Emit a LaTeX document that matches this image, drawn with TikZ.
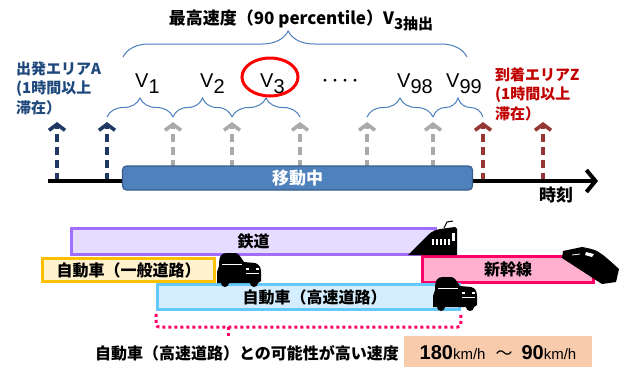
\documentclass[tikz,border=0pt]{standalone}
\usepackage{fontspec}
\setmainfont{Liberation Sans}
\newfontfamily\jp{Noto Sans CJK JP}
\usetikzlibrary{arrows.meta,decorations.pathreplacing}

\definecolor{navyarr}{RGB}{31,56,100}
\definecolor{navytxt}{RGB}{31,73,125}
\definecolor{grayarr}{RGB}{170,170,170}
\definecolor{redarr}{RGB}{150,55,53}
\definecolor{redtxt}{RGB}{192,0,0}
\definecolor{bracecol}{RGB}{74,126,187}
\definecolor{movefill}{RGB}{79,129,189}
\definecolor{moveline}{RGB}{56,93,138}
\definecolor{railline}{RGB}{160,110,250}
\definecolor{railfill}{RGB}{230,220,255}
\definecolor{roadline}{RGB}{255,192,0}
\definecolor{roadfill}{RGB}{255,242,204}
\definecolor{hwline}{RGB}{100,200,255}
\definecolor{hwfill}{RGB}{212,238,255}
\definecolor{shinline}{RGB}{255,0,102}
\definecolor{shinfill}{RGB}{255,176,206}
\definecolor{speedfill}{RGB}{248,203,173}

\begin{document}
\begin{tikzpicture}[x=1pt, y=-1pt,
  jpt/.style={font=\jp\bfseries\fontsize{#1}{19.5}\selectfont},
  darr/.style={line width=3.6pt, dash pattern=on 8pt off 5pt,
    -{Straight Barb[length=6pt,width=16pt]}},
  brc/.style={draw=bracecol, line width=1pt, decorate,
    decoration={brace, amplitude=#1}},
  bar/.style={line width=2.6pt, inner sep=0pt, jpt=16},
  vlab/.style={font=\fontsize{20}{20}\selectfont, inner sep=0pt, anchor=base west},
  dotpink/.style={shinline, line width=3pt, dash pattern=on 3pt off 3pt},
  % silhouettes
  car/.pic={
    \fill (2,14) .. controls (2,4) and (4,1) .. (10,1) -- (18,1)
      .. controls (22,1) and (24,6) .. (27,10) -- (38,11)
      .. controls (42,12) and (44,15) .. (44,20) -- (44,29) -- (41,31)
      -- (0,31) -- (0,20) -- cycle;
    \fill (8,31) circle (4pt);
    \fill (37,31) circle (4pt);
    \draw[white, line width=0.7pt] (5,12) -- (25,12);
    \draw[white, line width=0.7pt] (29,21) -- (42,21);
    \fill[white] (29,16) rectangle (32,18);
    \fill[white] (39,16) rectangle (42,18);
  },
  train/.pic={
    \fill (0,34) -- (20,14) .. controls (24,10) and (28,9) .. (32,8)
      -- (47,6) -- (49,8) -- (49,34) -- cycle;
    \draw[line width=1pt] (36,7) -- (39,1) -- (45,0);
    \foreach \i in {0,...,4}
      \fill[white] (24+\i*4,18) rectangle ++(2,6);
    \fill[white] (44,12) rectangle (47,20);
  },
  shinkansen/.pic={
    \fill (3,4) -- (22,0) .. controls (38,3) .. (59,22) -- (56,35)
      -- (42,37) -- (2,11) -- cycle;
    \draw[white, line width=0.8pt] (12,8) -- (20,7);
    \fill[white] (26,5) -- (34,7) -- (32,10) -- (25,8) -- cycle;
  }]
\useasboundingbox (0,0) rectangle (619,367);

% title and big brace
\node[jpt=17] (ttl) at (301,20)
  {最高速度（90 percentile）V\lower5pt\hbox{\fontsize{15}{15}\selectfont 3抽出}};
\coordinate (bl) at (123,57);
\coordinate (br) at (467,57);
\draw[brc=26pt, decoration={aspect=0.48}] (bl) -- (br);

% stay areas
\node[jpt=15, text=navytxt, align=left, anchor=north west, inner sep=0pt]
  (dep) at (16,61) {出発エリアA\\(1時間以上\\滞在）};
\node[jpt=15, text=redtxt, align=left, anchor=north west, inner sep=0pt]
  (arr) at (495,67) {到着エリアZ\\(1時間以上\\滞在）};

% sampling arrows
\foreach \x/\c [count=\i] in {57/navyarr,107/navyarr,173/grayarr,232/grayarr,
    300/grayarr,367/grayarr,433/grayarr,483/redarr,543/redarr}{
  \coordinate (b\i) at (\x,181);
  \coordinate (t\i) at (\x,122);
  \draw[darr, \c] (b\i) -- (t\i);
}

% braces between samples
\foreach \a/\b in {2/3,3/4,4/5,6/7,7/8}
  \draw[brc=19pt] ([yshift=5pt]t\a) -- ([yshift=5pt]t\b);

% speed labels
\foreach \x/\s in {135/1,200/2,260/3,397/98,446/99}
  \node[vlab] (v\s) at (\x,87) {V\lower6pt\hbox{\s}};
\node[jpt=10] (dots) at (340,82) {・・・・};
\draw[red, line width=3pt] (270,77) ellipse (28pt and 19pt);

% time axis
\coordinate (t0) at (48,181);
\coordinate (tend) at (598,181);
\draw[line width=4pt, -{Straight Barb[length=9pt,width=22pt]}] (t0) -- (tend);
\node[draw=moveline, fill=movefill, line width=1.2pt, rounded corners=4pt,
  minimum width=350pt, minimum height=24pt, text=white, jpt=17]
  (move) at (297.5,178) {移動中};
\node[jpt=17] (jikoku) at (556,195) {時刻};

% transport bars
\node[bar, draw=railline, fill=railfill, minimum width=364pt, minimum height=26pt]
  (rail) at (253.5,241.5) {鉄道};
\node[bar, draw=roadline, fill=roadfill, minimum width=172pt, minimum height=23pt]
  (road) at (128.5,270) {自動車（一般道路）};
\node[bar, draw=shinline, fill=shinfill, minimum width=171pt, minimum height=26pt]
  (shin) at (508,269.5) {新幹線};
\node[bar, draw=hwline, fill=hwfill, minimum width=302pt, minimum height=25pt]
  (hw) at (308.5,297) {\hspace{12pt}自動車（高速道路）};

% vehicles
\pic at (217,252) {car};
\pic at (433,276) {car};
\pic at (408,221) {train};
\pic at (560,247) {shinkansen};

% likely speed range
\coordinate (tip) at (228,339);
\draw[dotpink, rounded corners=3pt] ([yshift=-3pt]hw.south west) |- (228,327) -| ([yshift=-3pt]hw.south east);
\draw[dotpink] (228,327) -- (tip);
\node[jpt=16] (note) at (247,353) {自動車（高速道路）との可能性が高い速度};
\node[fill=speedfill, minimum width=188pt, minimum height=34pt, inner sep=0pt]
  (speed) at (498,353)
  {{\bfseries\fontsize{20}{20}\selectfont 180}{\fontsize{15}{15}\selectfont km/h}%
   \hspace{10pt}{\jp\fontsize{17}{17}\selectfont ～}\hspace{9pt}%
   {\bfseries\fontsize{20}{20}\selectfont 90}{\fontsize{15}{15}\selectfont km/h}};
\end{tikzpicture}
\end{document}
